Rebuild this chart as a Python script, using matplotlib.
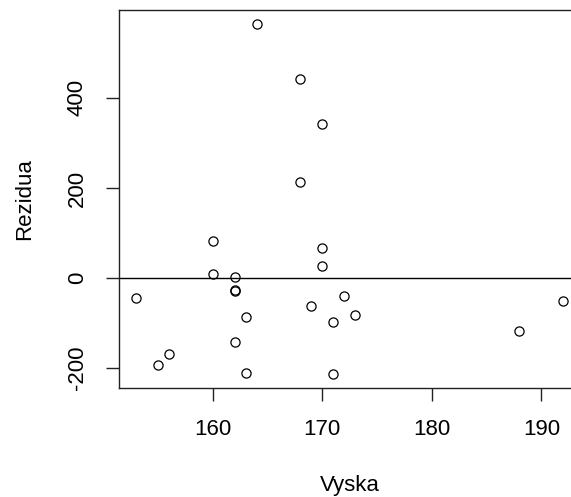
import matplotlib
matplotlib.use("Agg")
import matplotlib.pyplot as plt

# residuals vs height
vyska = [164, 168, 170, 168, 160, 170, 170, 160, 162, 153, 162, 162,
         163, 169, 172, 173, 171, 162, 156, 155, 163, 171, 188, 192]
rezidua = [564, 442, 342, 213, 83, 67, 26, 10, 3, -45, -26, -28,
           -87, -62, -39, -81, -97, -143, -168, -193, -210, -213, -117, -51]
x_ticks = [160, 170, 180, 190]
y_ticks = [-200, 0, 200, 400]

plt.rcParams['font.family'] = ['Liberation Sans', 'DejaVu Sans']
plt.rcParams['font.size'] = 16

fig = plt.figure(figsize=(5.71, 4.97), dpi=100)
ax = fig.add_axes([0.2084, 0.2193, 0.8079, 0.7606])

ax.plot(vyska, rezidua, 'o', mfc='none', mec='black', ms=6.6, mew=0.9)
ax.axhline(0, color='black', lw=1)

# R-style 4% padding around data
def pad(vals):
    lo, hi = min(vals), max(vals)
    d = (hi - lo) * 0.04
    return lo - d, hi + d

ax.set_xlim(*pad(vyska))
ax.set_ylim(*pad(rezidua))
ax.set_xticks(x_ticks)
ax.set_yticks(y_ticks)
ax.set_yticklabels([str(v) for v in y_ticks], rotation=90, va='center')
ax.tick_params(length=9.4, width=1, pad=13, labelsize=16, color='#222222')
for s in ax.spines.values():
    s.set_linewidth(1)
    s.set_color('#222222')

ax.set_xlabel('Vyska', labelpad=25)
ax.set_ylabel('Rezidua', labelpad=23)

fig.savefig('out.png', dpi=100)
